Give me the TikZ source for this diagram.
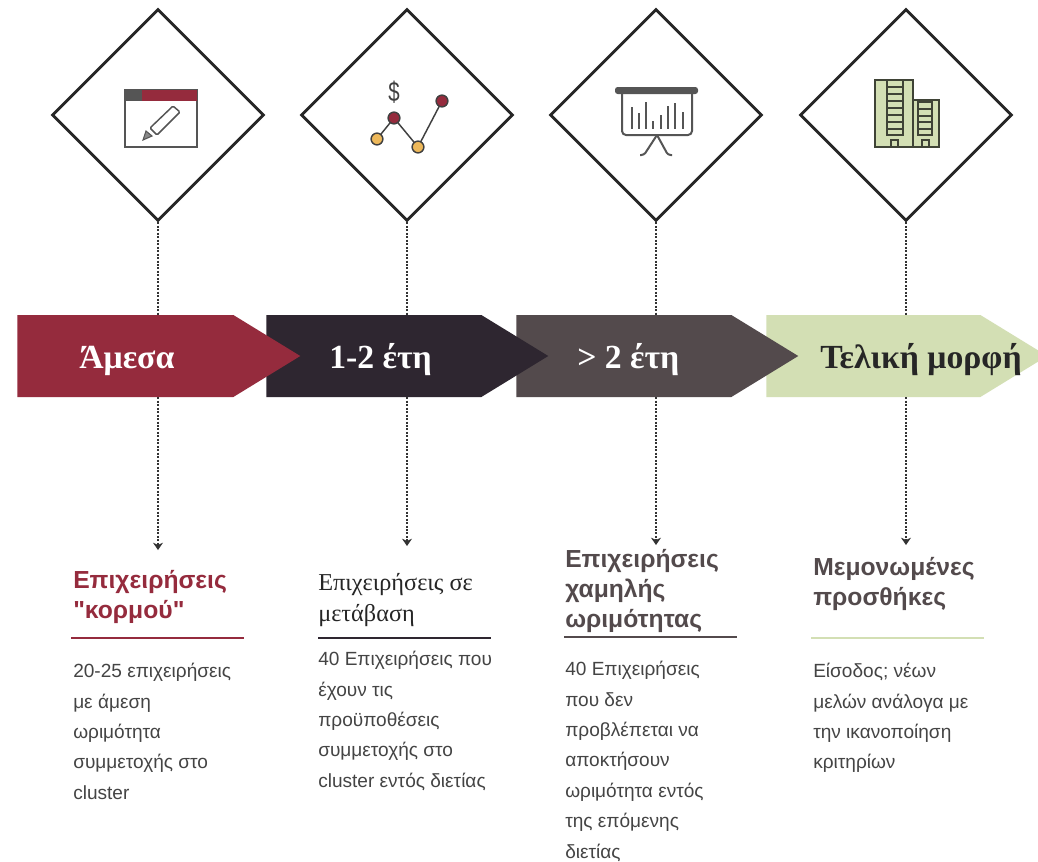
\documentclass[tikz,border=0pt]{standalone}
\usepackage{fontspec}
\setmainfont{Liberation Sans}
\newfontfamily\serifgr{Liberation Serif}
\newfontfamily\plainsans{Liberation Sans}
\usetikzlibrary{shapes.geometric,shapes.symbols,arrows.meta}
\definecolor{cmaroon}{HTML}{952B3D}
\definecolor{cdark}{HTML}{2E2630}
\definecolor{cgrey}{HTML}{534A4C}
\definecolor{cgreen}{HTML}{D3DFB4}
\definecolor{corange}{HTML}{EDB85A}
\definecolor{cink}{HTML}{444444}
\definecolor{cicon}{HTML}{555555}
\newcommand{\bodyfont}{\fontsize{14.3pt}{22.8pt}\selectfont}
\newcommand{\headfont}{\plainsans\bfseries\fontsize{18.5pt}{22.5pt}\selectfont}
\newcommand{\headserif}{\serifgr\fontsize{18.2pt}{23.2pt}\selectfont}
\tikzset{
  x=0.75pt,y=-0.75pt,
  frame/.style={shape=diamond,draw=black!85,line width=2.1pt,fill=white,inner sep=0pt,minimum width=159pt,minimum height=159pt,aspect=1},
  band/.style={shape=signal,signal to=east,signal pointer angle=63,inner sep=0pt,minimum height=61.5pt,fill=#1,draw=none,anchor=west},
  bandtext/.style={font=\serifgr\bfseries\fontsize{25.3pt}{28pt}\selectfont,anchor=base west,inner sep=0pt,text=white},
  link/.style={draw=black!80,line width=0.8pt,dash pattern=on 1.5pt off 1.1pt},
  linkarrow/.style={link,-{Stealth[length=5.5pt,width=7.5pt]}},
  headtext/.style={anchor=north west,inner sep=0pt,align=left,font=\headfont},
  bodytext/.style={anchor=north west,inner sep=0pt,align=left,font=\bodyfont,text=cink},
  rulebar/.style={line width=2.2pt},
  iconline/.style={draw=cicon,line width=1.5pt},
  towerline/.style={draw=black!70!cgreen,line width=1.1pt},
}
\begin{document}
\begin{tikzpicture}
\useasboundingbox (0,0) rectangle (1038,861);
\fill[white] (0,0) rectangle (1038,861);
% diamonds
\node[frame] (d1) at (158,115) {};
\node[frame] (d2) at (407,115) {};
\node[frame] (d3) at (656,115) {};
\node[frame] (d4) at (906,115) {};
% bands (later ones lie beneath)
\node[band=cgreen,minimum width=210.75pt] (b4) at (766,356) {};
\node[band=cgrey,minimum width=211.5pt] (b3) at (516,356) {};
\node[band=cdark,minimum width=211.5pt] (b2) at (266,356) {};
\node[band=cmaroon,minimum width=212.25pt] (b1) at (17,356) {};
\node[bandtext] (t1) at (79,368) {Άμεσα};
\node[bandtext] (t2) at (329,368) {1-2 έτη};
\node[bandtext] (t3) at (577,368) {> 2 έτη};
\node[bandtext,text=black!85] (t4) at (820,368) {Τελική μορφή};
% targets
\coordinate (e1) at (158,550);
\coordinate (e2) at (407,546);
\coordinate (e3) at (656,545);
\coordinate (e4) at (906,545);
% connectors
\foreach \i in {1,2,3,4}{
  \draw[link] (d\i.south) -- (d\i.south |- b\i.north);
  \draw[linkarrow] (d\i.south |- b\i.south) -- (e\i);
}
% column 1
\node[headtext,text=cmaroon] (h1) at (73,570) {Επιχειρήσεις\\"κορμού"};
\coordinate (r1a) at (71,638); \coordinate (r1b) at (244,638);
\draw[rulebar,draw=cmaroon] (r1a) -- (r1b);
\node[bodytext] (p1) at (73,663) {20-25 επιχειρήσεις\\με άμεση\\ωριμότητα\\συμμετοχής στο\\cluster};
% column 2
\node[headtext,font=\headserif,text=black!85] (h2) at (318,573) {Επιχειρήσεις σε\\μετάβαση};
\coordinate (r2a) at (318,638); \coordinate (r2b) at (491,638);
\draw[rulebar,draw=cdark] (r2a) -- (r2b);
\node[bodytext] (p2) at (318,651) {40 Επιχειρήσεις που\\έχουν τις\\προϋποθέσεις\\συμμετοχής στο\\cluster εντός διετίας};
% column 3
\node[headtext,text=cgrey] (h3) at (565,549) {Επιχειρήσεις\\χαμηλής\\ωριμότητας};
\coordinate (r3a) at (564,637); \coordinate (r3b) at (737,637);
\draw[rulebar,draw=cgrey] (r3a) -- (r3b);
\node[bodytext] (p3) at (565,661) {40 Επιχειρήσεις\\που δεν\\προβλέπεται να\\αποκτήσουν\\ωριμότητα εντός\\της επόμενης\\διετίας};
% column 4
\node[headtext,text=cgrey] (h4) at (813,557) {Μεμονωμένες\\προσθήκες};
\coordinate (r4a) at (811,638); \coordinate (r4b) at (984,638);
\draw[rulebar,draw=cgreen] (r4a) -- (r4b);
\node[bodytext] (p4) at (813,663) {Είσοδος; νέων\\μελών ανάλογα με\\την ικανοποίηση\\κριτηρίων};
% icon 1: window with pencil
\draw[iconline] (125,90) rectangle (197,147);
\fill[cmaroon] (125,90) rectangle (197,101);
\fill[cicon] (125,90) rectangle (142,101);
\draw[draw=cicon,line width=1.1pt,rounded corners=1pt] (173,106) -- (180,112) -- (157,135) -- (150,128) -- cycle;
\filldraw[draw=cicon,fill=cicon!70,line width=0.8pt] (143,140) -- (152,136) -- (146,131) -- cycle;
% icon 2: chart
\node[font=\plainsans\fontsize{18pt}{20pt}\selectfont,text=black!75,inner sep=0pt,xscale=0.85,yscale=1.15] (dollar) at (394,92) {\$};
\draw[black!75,line width=1.1pt] (377,139) -- (394,118) -- (418,147) -- (442,101);
\foreach \px/\py/\c in {377/139/corange,394/118/cmaroon,418/147/corange,442/101/cmaroon}
  \filldraw[draw=black!75,fill=\c,line width=1.1pt] (\px,\py) circle (4.4pt);
% icon 3: presentation board
\draw[draw=cicon,line width=1.5pt,rounded corners=3pt] (622,92) -- (622,135) -- (692,135) -- (692,92);
\fill[cicon,rounded corners=2pt] (615,87) rectangle (698,94);
\foreach \bx/\by in {632/107,639/113,646/102,653/121,661/115,668/106,675/103,683/112}
  \draw[cicon,line width=1.5pt] (\bx,\by) -- (\bx,129);
\draw[iconline,rounded corners=2pt] (657,135) -- (644,155) -- (640,155);
\draw[iconline,rounded corners=2pt] (657,135) -- (668,155) -- (672,155);
% icon 4: buildings
\filldraw[towerline,fill=cgreen] (875,80) rectangle (913,147);
\filldraw[towerline,fill=cgreen] (913,100) rectangle (939,147);
\draw[towerline] (887,80) rectangle (903,135);
\draw[towerline] (918,102) rectangle (932,135);
\foreach \ry in {87,94,101,108,115,122,129} \draw[towerline] (887,\ry) -- (903,\ry);
\foreach \ry in {109,116,122,129} \draw[towerline] (918,\ry) -- (932,\ry);
\draw[towerline] (891,147) -- (891,140) -- (898,140) -- (898,147);
\draw[towerline] (922,147) -- (922,140) -- (929,140) -- (929,147);
\end{tikzpicture}
\end{document}
